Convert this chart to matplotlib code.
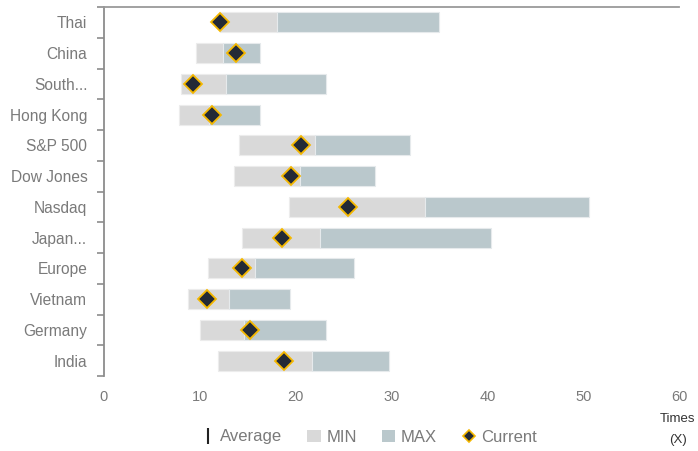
""" Valuation ranges (P/E multiples) by market.
"""

import numpy as np
import matplotlib.pyplot as plt
from matplotlib.lines import Line2D
from matplotlib.patches import Patch


""" DATA """
markets = ["Thai", "China", "South...", "Hong Kong", "S&P 500", "Dow Jones",
           "Nasdaq", "Japan...", "Europe", "Vietnam", "Germany", "India"]
min_vals = [12.1, 9.6, 8.0, 7.8, 14.1, 13.6, 19.3, 14.4, 10.8, 8.8, 10.0, 11.9]
avg_vals = [18.0, 12.4, 12.7, 11.0, 22.0, 20.4, 33.5, 22.5, 15.8, 13.0, 14.6, 21.7]
max_vals = [35.0, 16.3, 23.2, 16.3, 31.9, 28.3, 50.6, 40.4, 26.1, 19.4, 23.2, 29.7]
current_vals = [12.1, 13.8, 9.3, 11.3, 20.6, 19.5, 25.5, 18.6, 14.4, 10.7, 15.2, 18.8]
x_ticks = [0, 10, 20, 30, 40, 50, 60]


""" STYLE """
plt.rcParams['font.family'] = ['Liberation Sans', 'DejaVu Sans']
MIN_COLOR = "#d9d9d9"
MAX_COLOR = "#bac8cc"
DIAMOND = "#232a36"
GOLD = "#f5b800"
TEXT = "#7a7a7a"


def main():
    fig = plt.figure(figsize=(6.98, 4.51), dpi=100)
    ax = fig.add_axes([104 / 698, 1 - 376 / 451, 575 / 698, 369 / 451])

    y = np.arange(len(markets))
    mins = np.array(min_vals)
    avgs = np.array(avg_vals)
    maxs = np.array(max_vals)

    ax.barh(y, avgs - mins, left=mins, height=0.65, color=MIN_COLOR,
            edgecolor="#ececec", linewidth=0.8, zorder=2)
    ax.barh(y, maxs - avgs, left=avgs, height=0.65, color=MAX_COLOR,
            edgecolor="#e6eaec", linewidth=0.8, zorder=2)
    ax.plot(current_vals, y, linestyle="none", marker="D", markersize=9,
            markerfacecolor=DIAMOND, markeredgecolor=GOLD,
            markeredgewidth=1.3, zorder=3)

    ax.set_xlim(0, 60)
    ax.set_ylim(len(markets) - 0.5, -0.5)

    ax.set_yticks(y)
    ax.set_yticklabels(markets)
    ax.set_yticks(np.arange(len(markets) + 1) - 0.5, minor=True)
    ax.tick_params(axis="y", which="major", length=0, pad=12,
                   labelsize=11.2, labelcolor=TEXT)
    ax.tick_params(axis="y", which="minor", length=5, width=1.2, color="#8c8c8c")

    ax.set_xticks(x_ticks)
    ax.tick_params(axis="x", length=0, pad=10, labelsize=10.5, labelcolor=TEXT)

    for side in ["right", "bottom"]:
        ax.spines[side].set_visible(False)
    ax.spines["left"].set_color("#8c8c8c")
    ax.spines["left"].set_linewidth(1.3)
    ax.spines["top"].set_color("#9a9a9a")
    ax.spines["top"].set_linewidth(1.3)

    fig.text(678 / 698, 1 - 419 / 451, "Times", ha="center", va="center",
             fontsize=9.5, color="#333333")
    fig.text(678 / 698, 1 - 440 / 451, "(X)", ha="center", va="center",
             fontsize=9.5, color="#333333")

    handles = [
        Line2D([], [], linestyle="none", marker="|", markersize=12,
               markeredgewidth=1.5, color="#222222"),
        Patch(facecolor=MIN_COLOR, edgecolor="none"),
        Patch(facecolor=MAX_COLOR, edgecolor="none"),
        Line2D([], [], linestyle="none", marker="D", markersize=6,
               markerfacecolor=DIAMOND, markeredgecolor=GOLD,
               markeredgewidth=1.2),
    ]
    leg = fig.legend(handles, ["Average", "MIN", "MAX", "Current"], ncol=4,
                     loc="center", bbox_to_anchor=(369 / 698, 1 - 437 / 451),
                     frameon=False, fontsize=12, handlelength=0.8,
                     handletextpad=0.35, columnspacing=1.5)
    for t in leg.get_texts():
        t.set_color(TEXT)

    fig.savefig("out.png", dpi=100)


if __name__ == "__main__":
    main()
